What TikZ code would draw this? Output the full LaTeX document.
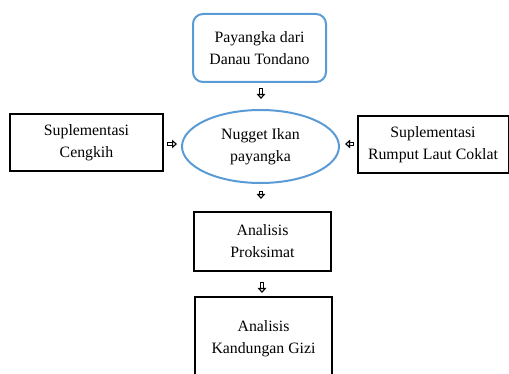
\documentclass[tikz,border=0pt]{standalone}
\usepackage{fontspec}
\setmainfont{Liberation Serif}
\usetikzlibrary{arrows.meta,shapes.geometric}
\definecolor{bluebox}{RGB}{91,155,213}
\begin{document}
\begin{tikzpicture}[x=1pt,y=-1pt,
  txt/.style={font=\fontsize{15.8}{22}\selectfont, text=black, align=center, inner sep=0pt},
  blackbox/.style={draw=black, line width=2pt, txt},
  hollowarr/.style={double=white, double distance=2.4pt, line width=1.1pt, line cap=rect, -{Triangle[open, fill=white, length=5pt, width=8.5pt, line width=1.1pt]}}]
\useasboundingbox (0,0) rectangle (509,374);
\node[draw=bluebox, line width=2pt, rounded corners=10pt, txt, minimum width=133pt, minimum height=68pt] (src) at (259.5,48) {Payangka dari\\Danau Tondano};
\node[draw=bluebox, line width=2pt, ellipse, txt, minimum width=157pt, minimum height=73pt] (nug) at (260.5,146.5) {Nugget Ikan\\payangka};
\node[blackbox, minimum width=153pt, minimum height=57pt] (cen) at (86.5,142.5) {Suplementasi\\Cengkih};
\node[blackbox, minimum width=151pt, minimum height=57pt] (rum) at (433,144.5) {Suplementasi\\Rumput Laut Coklat};
\node[blackbox, minimum width=137pt, minimum height=59pt] (pro) at (262.5,241.5) {Analisis\\Proksimat};
\node[blackbox, minimum width=137pt, minimum height=81pt, text depth=0pt] (giz) at (263.5,337.5) {Analisis\\Kandungan Gizi};
\draw[hollowarr, shorten <=7pt, shorten >=10pt] (src.south -| 261,0) -- (nug.north -| 261,0);
\draw[hollowarr, shorten <=9pt, shorten >=12pt] (nug.south -| 261,0) -- (pro.north -| 261,0);
\draw[hollowarr, shorten <=12pt, shorten >=3pt] (pro.south -| 262,0) -- (giz.north -| 262,0);
\draw[hollowarr, shorten <=5pt, shorten >=4pt] (cen.east |- 0,144) -- (nug.west |- 0,144);
\draw[hollowarr, shorten <=5pt, shorten >=5pt] (rum.west |- 0,144) -- (nug.east |- 0,144);
\end{tikzpicture}
\end{document}
